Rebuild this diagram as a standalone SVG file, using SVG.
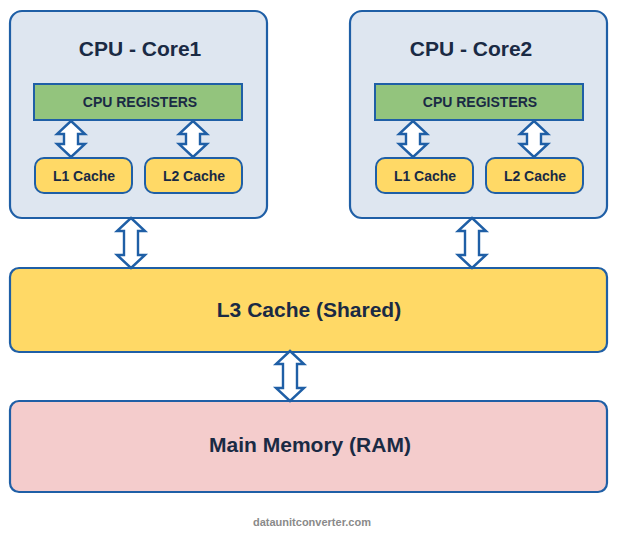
<svg xmlns="http://www.w3.org/2000/svg" width="620" height="540" viewBox="0 0 620 540">
<style>
.core{fill:#dee6f0;stroke:#1f5fa6;stroke-width:2.2}
.reg{fill:#93c47d;stroke:#1f5fa6;stroke-width:2}
.cache{fill:#ffd966;stroke:#1f5fa6;stroke-width:2}
.l3{fill:#ffd966;stroke:#1f5fa6;stroke-width:2.2}
.ram{fill:#f4cccc;stroke:#1f5fa6;stroke-width:2.2}
.arr{fill:#ffffff;stroke:#1f5fa6;stroke-width:2.4;stroke-linejoin:miter}
text{font-family:"Liberation Sans",Arial,sans-serif;font-weight:bold;fill:#1a2a44;text-anchor:middle}
.t1{font-size:21px}
.t2{font-size:14px}
.t3{font-size:14px}
.wm{font-size:11px;fill:#8a8a8a}
</style>
<defs>
<path id="a36" d="M0,0 L14,13 L7,13 L7,23 L14,23 L0,36 L-14,23 L-7,23 L-7,13 L-14,13 Z"/>
<path id="a50" d="M0,0 L14,13 L7,13 L7,37 L14,37 L0,50 L-14,37 L-7,37 L-7,13 L-14,13 Z"/>
</defs>
<g id="core1">
<rect class="core" x="10" y="11" width="257" height="207" rx="12"/>
<text class="t1" x="140" y="56">CPU - Core1</text>
</g>
<g id="reg1">
<rect class="reg" x="34" y="84" width="208" height="36"/>
<text class="t2" x="140" y="107">CPU REGISTERS</text>
</g>
<g id="l1c1">
<rect class="cache" x="35" y="158" width="97" height="35" rx="9"/>
<text class="t3" x="84" y="181">L1 Cache</text>
</g>
<g id="l2c1">
<rect class="cache" x="145" y="158" width="97" height="35" rx="9"/>
<text class="t3" x="194" y="181">L2 Cache</text>
</g>
<g id="core2">
<rect class="core" x="350" y="11" width="257" height="207" rx="12"/>
<text class="t1" x="471" y="56">CPU - Core2</text>
</g>
<g id="reg2">
<rect class="reg" x="375" y="84" width="208" height="36"/>
<text class="t2" x="480" y="107">CPU REGISTERS</text>
</g>
<g id="l1c2">
<rect class="cache" x="376" y="158" width="97" height="35" rx="9"/>
<text class="t3" x="425" y="181">L1 Cache</text>
</g>
<g id="l2c2">
<rect class="cache" x="486" y="158" width="97" height="35" rx="9"/>
<text class="t3" x="535" y="181">L2 Cache</text>
</g>
<g id="l3">
<rect class="l3" x="10" y="268" width="597" height="84" rx="9"/>
<text class="t1" x="309" y="317">L3 Cache (Shared)</text>
</g>
<g id="ram">
<rect class="ram" x="10" y="401" width="597" height="91" rx="9"/>
<text class="t1" x="310" y="452">Main Memory (RAM)</text>
</g>
<g id="connectors">
<use href="#a36" class="arr" x="71" y="121"/>
<use href="#a36" class="arr" x="193" y="121"/>
<use href="#a36" class="arr" x="413" y="121"/>
<use href="#a36" class="arr" x="534" y="121"/>
<use href="#a50" class="arr" x="131" y="218"/>
<use href="#a50" class="arr" x="472" y="218"/>
<use href="#a50" class="arr" x="290" y="351"/>
</g>
<text class="wm" x="312" y="526">dataunitconverter.com</text>
</svg>
